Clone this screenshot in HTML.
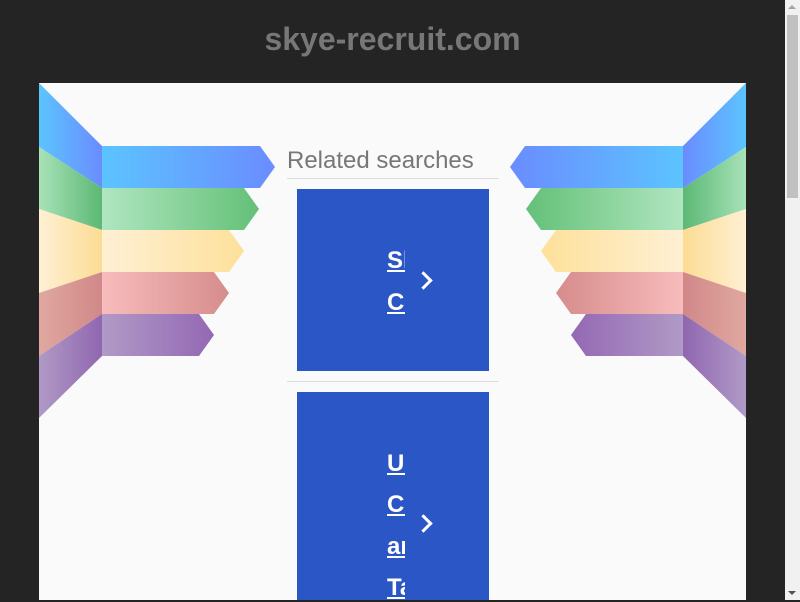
<!DOCTYPE html>
<html><head><meta charset="utf-8"><style>
html,body{margin:0;padding:0;width:800px;height:600px;overflow:hidden;background:#242424;font-family:"Liberation Sans",sans-serif}
.title{position:absolute;left:0;width:785px;top:18px;text-align:center;color:#777;font-weight:bold;font-size:32px;line-height:42px}
.panel{position:absolute;left:39px;top:83px;width:707px;height:517px;background:#fafafa}
.rs{position:absolute;left:287px;top:145px;font-size:24px;color:#777;line-height:32px}
.hr{position:absolute;left:287px;width:212px;height:1px;background:#ddd}
.box{position:absolute;left:297px;width:192px;background:#2b56c6}
.w{position:absolute;left:387px;width:18px;overflow:hidden;white-space:nowrap;color:#fff;font-weight:bold;font-size:24px;line-height:28px;text-decoration:underline}
.chev{position:absolute;width:10px;height:10px;border-right:3px solid #fff;border-top:3px solid #fff;transform:rotate(45deg)}
.sb{position:absolute;left:785px;top:0;width:15px;height:600px;background:#f1f1f1}
.thumb{position:absolute;left:787px;top:15px;width:11px;height:183px;background:#c1c1c1}
</style></head><body>
<div class="title">skye-recruit.com</div>
<div class="panel"></div>
<svg width="800" height="600" style="position:absolute;left:0;top:0">
<defs>
<linearGradient id="b" x1="0" x2="1"><stop offset="0" stop-color="#5cc4ff"/><stop offset="1" stop-color="#6a8cff"/></linearGradient>
<linearGradient id="g" x1="0" x2="1"><stop offset="0" stop-color="#b0e6c0"/><stop offset="1" stop-color="#64c078"/></linearGradient>
<linearGradient id="y" x1="0" x2="1"><stop offset="0" stop-color="#fff0d4"/><stop offset="1" stop-color="#fde09a"/></linearGradient>
<linearGradient id="r" x1="0" x2="1"><stop offset="0" stop-color="#f8bcbc"/><stop offset="1" stop-color="#d68c8c"/></linearGradient>
<linearGradient id="p" x1="0" x2="1"><stop offset="0" stop-color="#b09ac6"/><stop offset="1" stop-color="#9468b4"/></linearGradient>
<linearGradient id="wb" x1="0" x2="1"><stop offset="0" stop-color="#5cc4ff"/><stop offset="1" stop-color="#6a8cff"/></linearGradient>
<linearGradient id="wg" x1="0" x2="1"><stop offset="0" stop-color="#a8e2b8"/><stop offset="1" stop-color="#5cb874"/></linearGradient>
<linearGradient id="wy" x1="0" x2="1"><stop offset="0" stop-color="#fff0d4"/><stop offset="1" stop-color="#fcdc94"/></linearGradient>
<linearGradient id="wr" x1="0" x2="1"><stop offset="0" stop-color="#e0a8a0"/><stop offset="1" stop-color="#d08888"/></linearGradient>
<linearGradient id="wp" x1="0" x2="1"><stop offset="0" stop-color="#b09ac6"/><stop offset="1" stop-color="#9066b0"/></linearGradient>
</defs>
<g id="L">
<polygon points="39,83 102,146 102,188 39,147" fill="url(#wb)"/>
<polygon points="39,147 102,188 102,230 39,209" fill="url(#wg)"/>
<polygon points="39,209 102,230 102,272 39,293" fill="url(#wy)"/>
<polygon points="39,293 102,272 102,314 39,356" fill="url(#wr)"/>
<polygon points="39,356 102,314 102,356 39,418" fill="url(#wp)"/>
<polygon points="102,146 260,146 275,167 260,188 102,188" fill="url(#b)"/>
<polygon points="102,188 244,188 259,209 244,230 102,230" fill="url(#g)"/>
<polygon points="102,230 229,230 244,251 229,272 102,272" fill="url(#y)"/>
<polygon points="102,272 214,272 229,293 214,314 102,314" fill="url(#r)"/>
<polygon points="102,314 199,314 214,335 199,356 102,356" fill="url(#p)"/>
</g>
<use href="#L" transform="translate(785,0) scale(-1,1)"/>
</svg>
<div class="rs">Related searches</div>
<div class="hr" style="top:178px"></div>
<div class="box" style="top:189px;height:182px"></div>
<div class="w" style="top:247px">Sl</div>
<div class="w" style="top:289px">Cr</div>
<div class="chev" style="left:417px;top:274px"></div>
<div class="hr" style="top:381px"></div>
<div class="box" style="top:392px;height:208px"></div>
<div class="w" style="top:450px">Ur</div>
<div class="w" style="top:491px">Co</div>
<div class="w" style="top:533px">an</div>
<div class="w" style="top:574px">Ta</div>
<div class="chev" style="left:417px;top:517px"></div>
<div class="sb"></div>
<div class="thumb"></div>
<div style="position:absolute;left:788px;top:5px;width:0;height:0;border-left:4px solid transparent;border-right:4px solid transparent;border-bottom:4px solid #a3a3a3"></div>
<div style="position:absolute;left:788px;top:591px;width:0;height:0;border-left:4px solid transparent;border-right:4px solid transparent;border-top:4px solid #505050"></div>
</body></html>
